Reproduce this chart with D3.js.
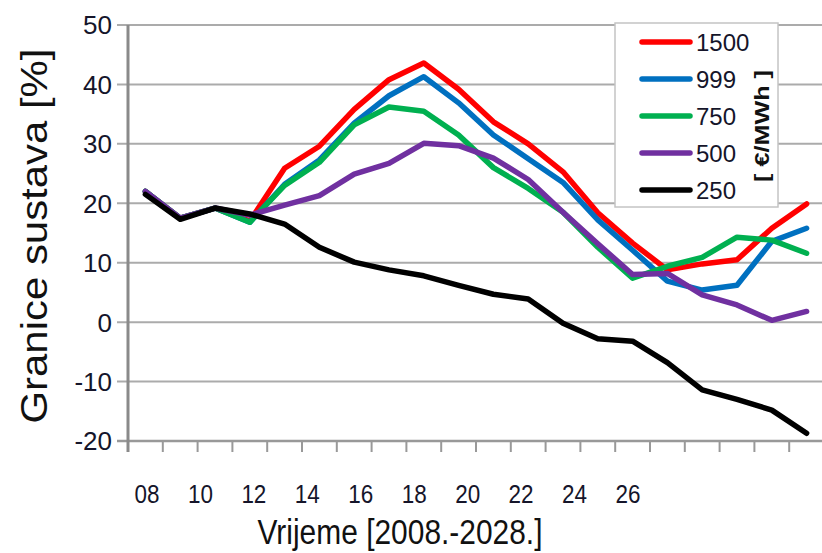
<!DOCTYPE html>
<html>
<head>
<meta charset="utf-8">
<script src="https://cdn.jsdelivr.net/npm/d3@7"></script>
<style>
  html, body { margin: 0; padding: 0; background: #fff; }
  svg { display: block; }
  text { font-family: "Liberation Sans", Arial, sans-serif; }
</style>
</head>
<body>
<svg id="chart" width="822" height="553"></svg>
<script>
// ---- data ----
const years = ["08","09","10","11","12","13","14","15","16","17","18","19","20","21","22","23","24","25","26","27"];
const tickLabels = ["08","10","12","14","16","18","20","22","24","26"];
const yTicks = [-20,-10,0,10,20,30,40,50];
const seriesNames = ["1500","999","750","500","250"];
const s1500 = [22.0,17.5,19.2,17.0,25.9,29.6,35.8,40.8,43.6,39.2,33.7,30.0,25.3,18.4,13.3,8.8,9.8,10.5,15.8,19.9];
const s999  = [22.0,17.5,19.2,16.8,23.2,27.3,33.5,38.1,41.3,36.9,31.5,27.5,23.5,17.2,12.1,6.9,5.4,6.2,13.6,15.8];
const s750  = [22.0,17.5,19.2,16.8,23.0,26.9,33.2,36.2,35.5,31.5,26.0,22.5,18.5,12.6,7.4,9.4,10.9,14.3,13.8,11.6];
const s500  = [22.0,17.5,19.2,18.0,19.7,21.3,24.9,26.7,30.1,29.7,27.6,24.0,18.5,13.2,8.0,8.2,4.6,2.9,0.3,1.8];
const s250  = [21.5,17.3,19.2,18.2,16.5,12.6,10.1,8.8,7.8,6.2,4.7,3.9,-0.2,-2.8,-3.2,-6.8,-11.4,-13.0,-14.8,-18.7];
const colors = ["#ff0000","#0070c0","#00b050","#7030a0","#000000"];
const allSeries = [s1500, s999, s750, s500, s250];

// ---- layout ----
const svg = d3.select("#chart");
const mLeft = 128, mTop = 25, mBottom = 441, catW = 34.8;
const x = d3.scaleBand().domain(years).range([mLeft, mLeft + catW * years.length]).padding(0);
const y = d3.scaleLinear().domain([-20, 50]).range([mBottom, mTop]);
const xl = d3.scalePoint().domain(tickLabels).range([147, 628]);
const mRight = mLeft + catW * years.length;

// gridlines (with outside tick)
svg.append("g").selectAll("line").data(yTicks.filter(t => t > -20)).join("line")
  .attr("x1", mLeft - 11).attr("x2", mRight)
  .attr("y1", d => y(d)).attr("y2", d => y(d))
  .attr("stroke", "#ababab").attr("stroke-width", 2);

// y tick labels
svg.append("g").selectAll("text").data(yTicks).join("text")
  .attr("x", 112).attr("y", d => y(d)).attr("dy", "0.36em")
  .attr("text-anchor", "end").attr("font-size", 26).attr("fill", "#15152a")
  .text(d => d);

// x axis line & ticks
svg.append("line").attr("x1", mLeft - 11).attr("x2", mRight)
  .attr("y1", mBottom).attr("y2", mBottom).attr("stroke", "#999").attr("stroke-width", 2.5);
svg.append("g").selectAll("line").data(years).join("line")
  .attr("x1", d => x(d)).attr("x2", d => x(d))
  .attr("y1", mBottom).attr("y2", mBottom + 11)
  .attr("stroke", "#999").attr("stroke-width", 2);
// y axis line
svg.append("line").attr("x1", mLeft).attr("x2", mLeft)
  .attr("y1", mTop).attr("y2", mBottom + 11).attr("stroke", "#8a8a8a").attr("stroke-width", 3);

// x tick labels
svg.append("g").selectAll("text").data(tickLabels).join("text")
  .attr("x", d => xl(d)).attr("y", 503)
  .attr("text-anchor", "middle").attr("font-size", 25).attr("fill", "#15152a")
  .attr("textLength", 25).attr("lengthAdjust", "spacingAndGlyphs")
  .text(d => d);

// axis titles
svg.append("text").attr("x", 400).attr("y", 544).attr("text-anchor", "middle")
  .attr("font-size", 35).attr("fill", "#111")
  .attr("textLength", 285).attr("lengthAdjust", "spacingAndGlyphs")
  .text("Vrijeme [2008.-2028.]");
svg.append("text").attr("transform", "translate(47,236) rotate(-90)").attr("text-anchor", "middle")
  .attr("font-size", 37).attr("fill", "#111")
  .attr("textLength", 375).attr("lengthAdjust", "spacingAndGlyphs")
  .text("Granice sustava [%]");

// lines
const line = d3.line().x((d, i) => x(years[i]) + x.bandwidth() / 2).y(d => y(d));
svg.append("g").selectAll("path").data(allSeries).join("path")
  .attr("d", d => line(d)).attr("fill", "none")
  .attr("stroke", (d, i) => colors[i]).attr("stroke-width", 5.5)
  .attr("stroke-linejoin", "round").attr("stroke-linecap", "round");

// legend
const lg = svg.append("g");
lg.append("rect").attr("x", 615).attr("y", 23).attr("width", 163).attr("height", 184)
  .attr("fill", "#fff").attr("stroke", "#c4c4c4").attr("stroke-width", 1.5);
const rowY = d3.scalePoint().domain(seriesNames).range([42, 190]);
lg.selectAll("line.k").data(seriesNames).join("line")
  .attr("x1", 642).attr("x2", 690).attr("y1", d => rowY(d)).attr("y2", d => rowY(d))
  .attr("stroke", (d, i) => colors[i]).attr("stroke-width", 5.5).attr("stroke-linecap", "round");
lg.selectAll("text.k").data(seriesNames).join("text")
  .attr("x", 696).attr("y", d => rowY(d)).attr("dy", "0.36em")
  .attr("font-size", 24).attr("fill", "#15152a").text(d => d);
lg.append("text").attr("transform", "translate(769,126) rotate(-90)").attr("text-anchor", "middle")
  .attr("font-size", 20).attr("font-weight", "bold").attr("fill", "#111")
  .attr("xml:space", "preserve")
  .attr("textLength", 112).attr("lengthAdjust", "spacingAndGlyphs")
  .text("[ €/MWh ]");
</script>
</body>
</html>
